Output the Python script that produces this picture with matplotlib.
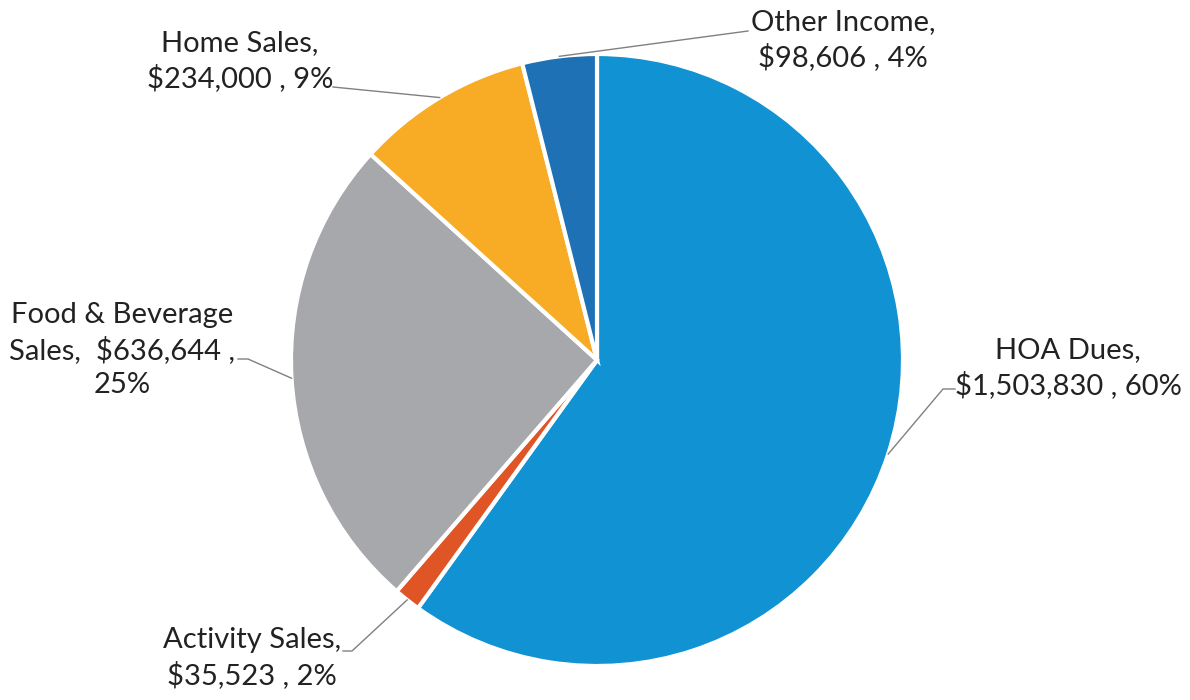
import numpy as np
import matplotlib.pyplot as plt

# Income sources, clockwise from 12 o'clock
sources = ["HOA Dues", "Activity Sales", "Food & Beverage Sales", "Home Sales", "Other Income"]
amounts = [1503830, 35523, 636644, 234000, 98606]
# percentages as printed on the original chart
pcts = [60, 2, 25, 9, 4]
colors = ["#1192d2", "#e05526", "#a6a8ab", "#f8ac25", "#1f71b6"]

plt.rcParams["font.family"] = ["Lato", "DejaVu Sans"]

W, H = 1190, 700
fig = plt.figure(figsize=(W / 100, H / 100), dpi=100)
ax = fig.add_axes([0, 0, 1, 1])

cx, cy, r = 597, 340, 306
wedges, _ = ax.pie(amounts, colors=colors, startangle=90, counterclock=False,
                   center=(cx, cy), radius=r,
                   wedgeprops=dict(edgecolor="white", linewidth=3))
ax.set_xlim(0, W)
ax.set_ylim(0, H)
ax.set_aspect("equal")
ax.axis("off")

labels = [
    f"HOA Dues,\n${amounts[0]:,} , {pcts[0]}%",
    f"Activity Sales,\n${amounts[1]:,} , {pcts[1]}%",
    f"Food & Beverage\nSales,  ${amounts[2]:,} ,\n{pcts[2]}%",
    f"Home Sales,\n${amounts[3]:,} , {pcts[3]}%",
    f"Other Income,\n${amounts[4]:,} , {pcts[4]}%",
]

# label centres and leader-line elbows (pixel layout, y measured from top)
text_pos = [(1068, 368), (252, 658), (122, 350), (240, 61), (843, 40)]
elbows = [[(943, 389), (955, 389)],
          [(352, 651), (343, 651)],
          [(248, 359), (238, 359)],
          [(333, 87)],
          [(748, 31)]]

for w, lab, (tx, ty), elb in zip(wedges, labels, text_pos, elbows):
    mid = np.deg2rad((w.theta1 + w.theta2) / 2)
    ex, ey = cx + r * np.cos(mid), cy + r * np.sin(mid)
    xs = [ex] + [p[0] for p in elb]
    ys = [ey] + [H - p[1] for p in elb]
    ax.plot(xs, ys, color="#808080", linewidth=1)
    ax.text(tx, H - ty, lab, ha="center", va="center", fontsize=21,
            color="#222222", linespacing=1.35)

fig.savefig("out.png", dpi=100, facecolor="white")
